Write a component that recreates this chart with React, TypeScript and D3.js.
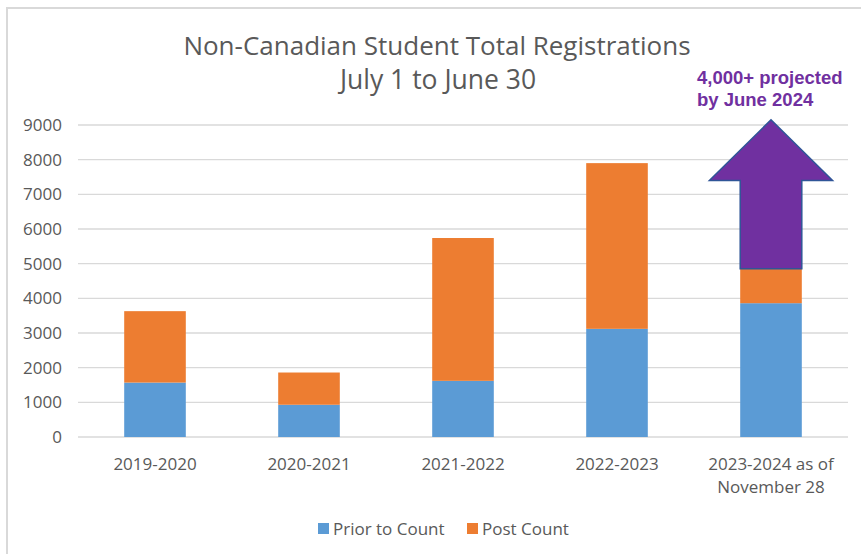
import React, { useRef, useEffect } from 'react';
import * as d3 from 'd3';

const categories = ['2019-2020', '2020-2021', '2021-2022', '2022-2023', '2023-2024 as of|November 28'];
const priorToCount = [1570, 930, 1620, 3120, 3860];
const postCount = [2060, 930, 4120, 4780, 990];
const yTicks = [0, 1000, 2000, 3000, 4000, 5000, 6000, 7000, 8000, 9000];
// projected arrow (data units): tip and head base
const arrowTip = 9150;
const arrowHeadBase = 7400;

export default function App() {
  const svgRef = useRef<SVGSVGElement>(null);

  useEffect(() => {
    const width = 861;
    const height = 554;
    const margin = { top: 125, right: 13, bottom: 117, left: 78 };
    const font = '"Open Sans", sans-serif';
    const grey = '#595959';

    const svg = d3.select(svgRef.current);
    svg.selectAll('*').remove();
    svg.attr('width', width).attr('height', height);

    svg.append('rect').attr('x', 0).attr('y', 0).attr('width', width).attr('height', height).attr('fill', '#fff');
    // outer frame: only top and left edges visible
    svg.append('path')
      .attr('d', `M7,${height} V8 H${width}`)
      .attr('fill', 'none').attr('stroke', '#d9d9d9').attr('stroke-width', 2);

    const x = d3.scaleBand().domain(categories).range([margin.left, width - margin.right]).paddingInner(0.6).paddingOuter(0.3);
    const y = d3.scaleLinear().domain([0, 9000]).range([height - margin.bottom, margin.top]);

    // gridlines
    svg.append('g').selectAll('line').data(yTicks).join('line')
      .attr('x1', margin.left).attr('x2', width - margin.right)
      .attr('y1', d => y(d)).attr('y2', d => y(d))
      .attr('stroke', '#d9d9d9').attr('stroke-width', 1.3);

    // y labels
    svg.append('g').selectAll('text').data(yTicks).join('text')
      .attr('x', 62).attr('y', d => y(d)).attr('dy', '0.35em')
      .attr('text-anchor', 'end').attr('fill', grey)
      .style('font-family', font).style('font-size', '17px')
      .text(d => d);

    const stacked = categories.map((c, i) => ({ c, prior: priorToCount[i], post: postCount[i] }));
    const bw = x.bandwidth();

    // prior
    svg.append('g').selectAll('rect').data(stacked).join('rect')
      .attr('x', d => x(d.c)!).attr('width', bw)
      .attr('y', d => y(d.prior)).attr('height', d => y(0) - y(d.prior))
      .attr('fill', '#5b9bd5');
    // post
    svg.append('g').selectAll('rect').data(stacked).join('rect')
      .attr('x', d => x(d.c)!).attr('width', bw)
      .attr('y', d => y(d.prior + d.post)).attr('height', d => y(d.prior) - y(d.prior + d.post))
      .attr('fill', '#ed7d31');

    // x labels
    const xl = svg.append('g').selectAll('text').data(categories).join('text')
      .attr('text-anchor', 'middle').attr('fill', grey)
      .style('font-family', font).style('font-size', '17px');
    xl.each(function (d) {
      const parts = d.split('|');
      const t = d3.select(this);
      parts.forEach((p, k) => {
        t.append('tspan').attr('x', x(d)! + bw / 2).attr('y', 470 + k * 23).text(p);
      });
    });

    // projected arrow
    const last = stacked[stacked.length - 1];
    const x0 = x(last.c)!;
    const cx = x0 + bw / 2;
    const headHalf = bw;
    const base = y(last.prior + last.post);
    const pts: [number, number][] = [
      [x0, base], [x0, y(arrowHeadBase)], [cx - headHalf, y(arrowHeadBase)],
      [cx, y(arrowTip)], [cx + headHalf, y(arrowHeadBase)], [x0 + bw, y(arrowHeadBase)], [x0 + bw, base],
    ];
    svg.append('path')
      .attr('d', d3.line()(pts) + 'Z')
      .attr('fill', '#7030a0').attr('stroke', '#2f5597').attr('stroke-width', 1.5)
      .attr('stroke-linejoin', 'miter');

    const noteFont = 'Arial, "Liberation Sans", sans-serif';
    svg.append('text').attr('x', 697).attr('y', 84)
      .attr('fill', '#7030a0').style('font-family', noteFont)
      .style('font-weight', 'bold').style('font-size', '18.5px').text('4,000+ projected');
    svg.append('text').attr('x', 697).attr('y', 106)
      .attr('fill', '#7030a0').style('font-family', noteFont)
      .style('font-weight', 'bold').style('font-size', '18.5px').text('by June 2024');

    // title
    svg.append('text').attr('x', 437).attr('y', 55).attr('text-anchor', 'middle')
      .attr('fill', grey).style('font-family', font).style('font-size', '26px')
      .text('Non-Canadian Student Total Registrations');
    svg.append('text').attr('x', 438).attr('y', 89).attr('text-anchor', 'middle')
      .attr('fill', grey).style('font-family', font).style('font-size', '26.5px')
      .text('July 1 to June 30');

    // legend
    const legend = [
      { label: 'Prior to Count', color: '#5b9bd5', x: 318 },
      { label: 'Post Count', color: '#ed7d31', x: 467 },
    ];
    const lg = svg.append('g').selectAll('g').data(legend).join('g');
    lg.append('rect').attr('x', d => d.x).attr('y', 523).attr('width', 11).attr('height', 11).attr('fill', d => d.color);
    lg.append('text').attr('x', d => d.x + 15).attr('y', 535)
      .attr('fill', grey).style('font-family', font).style('font-size', '17px')
      .text(d => d.label);
  }, []);

  return <svg ref={svgRef} style={{ position: 'absolute', left: 0, top: 0 }}></svg>;
}
